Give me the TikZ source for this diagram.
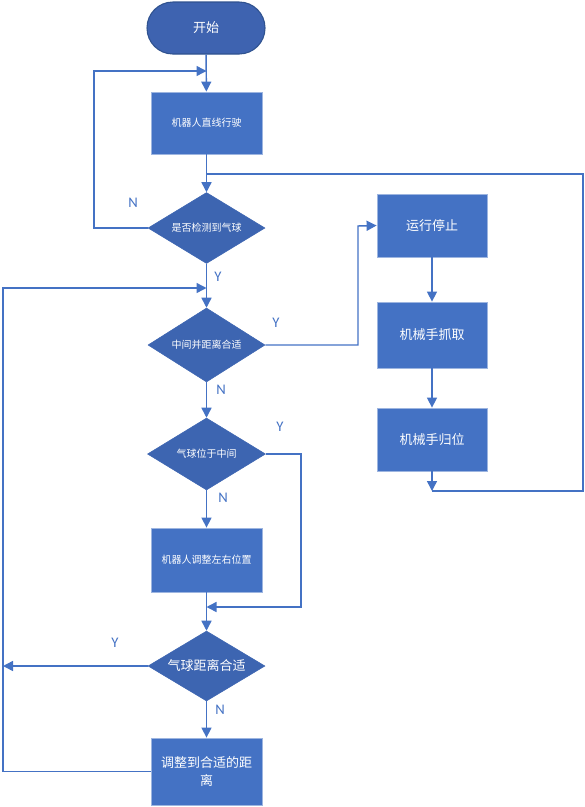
\documentclass[tikz,border=0pt]{standalone}
\usepackage{fontspec}
\setmainfont{Carlito}
\newfontfamily\cjk{Noto Sans CJK SC}
\usetikzlibrary{shapes.geometric,arrows.meta}
\definecolor{boxblue}{HTML}{4472C4}
\definecolor{diablue}{HTML}{3D65B1}
\definecolor{startblue}{HTML}{3E63B0}
\definecolor{startedge}{HTML}{2F528F}
\definecolor{boxedge}{HTML}{9DB5E0}
\definecolor{lineblue}{HTML}{4472C4}
\tikzset{
  procbox/.style={rectangle,fill=boxblue,draw=boxedge,line width=0.6pt,text=white,inner sep=0pt,align=center},
  decis/.style={diamond,aspect=1.65,fill=diablue,draw=diablue,line width=0.4pt,text=white,inner sep=0pt,align=center},
  startbox/.style={rectangle,rounded corners=19.4pt,fill=startblue,draw=startedge,line width=0.8pt,text=white,inner sep=0pt},
  ln/.style={draw=lineblue,line width=1.1pt},
  arr/.style={ln,-{Triangle[length=7.5pt,width=7.5pt]}},
  lab/.style={text=lineblue,font=\fontsize{11}{13}\selectfont,inner sep=0pt},
  small/.style={font=\cjk\fontsize{7.5}{9}\selectfont},
  big/.style={font=\cjk\fontsize{9.75}{14}\selectfont}
}
\begin{document}
\begin{tikzpicture}[x=0.75pt,y=-0.75pt]
\useasboundingbox (0,0) rectangle (585,807);
% nodes
\node[startbox,big,minimum width=88.5pt,minimum height=39pt] (start) at (206,28) {开始};
\node[procbox,small,minimum width=83.25pt,minimum height=46.5pt] (b1) at (206.5,123) {机器人直线行驶};
\node[decis,small,minimum width=87.75pt,minimum height=53.25pt] (d1) at (206.5,228) {是否检测到气球};
\node[decis,small,minimum width=87.75pt,minimum height=55.5pt] (d2) at (206.5,345) {中间并距离合适};
\node[decis,small,minimum width=88.5pt,minimum height=54pt] (d3) at (206.5,454) {气球位于中间};
\node[procbox,small,minimum width=83.25pt,minimum height=48pt] (b4) at (206.5,560) {机器人调整左右位置};
\node[decis,big,minimum width=87.75pt,minimum height=52.5pt] (d4) at (206.5,666) {气球距离合适};
\node[procbox,big,minimum width=83.25pt,minimum height=50.25pt] (b5) at (206.5,771.5) {调整到合适的距\\离};
\node[procbox,big,minimum width=82.5pt,minimum height=47.25pt] (r1) at (432,225.5) {运行停止};
\node[procbox,big,minimum width=82.5pt,minimum height=49.5pt] (r2) at (432,335) {机械手抓取};
\node[procbox,big,minimum width=82.5pt,minimum height=47.25pt] (r3) at (432,439.5) {机械手归位};
% helper coordinates
\coordinate (l1) at (94,71);
\coordinate (j1) at (206.5,71);
\coordinate (c3) at (432,491);
\coordinate (c4) at (583,174);
\coordinate (j2) at (206.5,174);
\coordinate (l2) at (3,288);
\coordinate (j3) at (206.5,288);
\coordinate (m1) at (358,226);
\coordinate (m2) at (301,607);
\coordinate (j4) at (206.5,607);
\coordinate (l3) at (3,666);
% connectors
\draw[arr] (start) -- (b1);
\draw[arr] (d1.west) -| (l1) -- (j1);
\draw[arr] (b1) -- (d1);
\draw[arr] (r3.south) -- (c3);
\draw[ln] (c3) -| (c4) -- (j2);
\draw[arr] (d1) -- (d2);
\draw[arr] (b5.west) -| (l2) -- (j3);
\draw[arr] (d2.east) -| (m1) -- (r1.west);
\draw[arr] (r1) -- (r2);
\draw[arr] (r2) -- (r3);
\draw[arr] (d2) -- (d3);
\draw[arr] (d3) -- (b4);
\draw[arr] (d3.east) -| (m2) -- (j4);
\draw[arr] (b4) -- (d4);
\draw[arr] (d4.west) -- (l3);
\draw[arr] (d4) -- (b5);
% labels
\node[lab] (n1) at (133,203) {N};
\node[lab] (y1) at (218,277) {Y};
\node[lab] (y2) at (276,323) {Y};
\node[lab] (n2) at (221,390) {N};
\node[lab] (y3) at (280,427) {Y};
\node[lab] (n3) at (223,498) {N};
\node[lab] (y4) at (115,643) {Y};
\node[lab] (n4) at (220,710) {N};
\end{tikzpicture}
\end{document}
